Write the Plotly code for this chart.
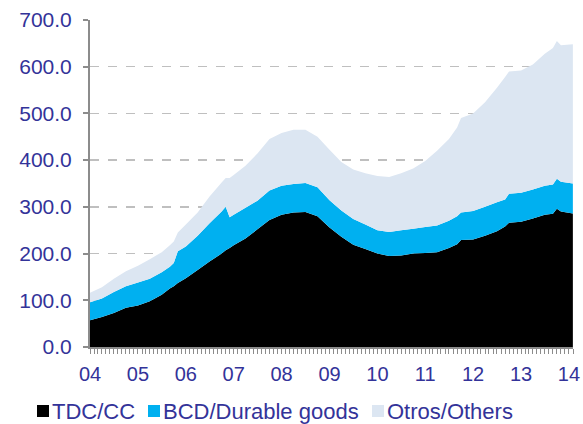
import plotly.graph_objects as go

dates = ["2004-01-01", "2004-04-01", "2004-07-01", "2004-10-01",
         "2005-01-01", "2005-04-01", "2005-07-01", "2005-09-01", "2005-10-01", "2005-11-01",
         "2006-01-01", "2006-04-01", "2006-07-01", "2006-10-01", "2006-11-01", "2006-12-01",
         "2007-01-01", "2007-04-01", "2007-07-01", "2007-10-01",
         "2008-01-01", "2008-04-01", "2008-07-01", "2008-10-01",
         "2009-01-01", "2009-04-01", "2009-07-01", "2009-10-01",
         "2010-01-01", "2010-04-01", "2010-07-01", "2010-10-01",
         "2011-01-01", "2011-04-01", "2011-07-01", "2011-09-01", "2011-10-01",
         "2012-01-01", "2012-04-01", "2012-07-01", "2012-09-01", "2012-10-01",
         "2013-01-01", "2013-04-01", "2013-07-01", "2013-09-01", "2013-10-01", "2013-11-01",
         "2014-01-31"]

tdc_cc = [57, 64, 73, 84,
          89, 98, 112, 125, 130, 137,
          147, 165, 183, 200, 207, 212,
          218, 232, 252, 272,
          283, 288, 289, 280,
          256, 236, 219, 210,
          200, 195, 196, 200,
          201, 203, 212, 220, 229,
          230, 238, 248, 258, 266,
          268, 275, 283, 285, 296, 290,
          286]

bcd_durable = [39, 40, 45, 46,
               49, 48, 48, 47, 50, 68,
               68, 73, 82, 90, 93, 66,
               65, 66, 61, 63,
               62, 61, 62, 62,
               58, 56, 55, 52,
               50, 51, 54, 53,
               56, 57, 58, 60, 59,
               61, 62, 62, 58, 62,
               62, 62, 62, 63, 64, 64,
               64]

otros_others = [20, 24, 28, 32,
                36, 42, 43, 46, 46, 40,
                47, 50, 57, 62, 62, 84,
                85, 90, 101, 110,
                113, 116, 114, 108,
                108, 104, 106, 110,
                116, 118, 122, 129,
                141, 160, 175, 190, 202,
                209, 224, 245, 262, 262,
                262, 268, 283, 292, 295, 292,
                298]

series_names = ["TDC/CC", "BCD/Durable goods", "Otros/Others"]
series_values = [tdc_cc, bcd_durable, otros_others]
series_colors = ["#000000", "#00B0F0", "#DCE6F2"]

y_ticks = [0, 100, 200, 300, 400, 500, 600, 700]
x_ticks = ["2004-01-01", "2005-01-01", "2006-01-01", "2007-01-01", "2008-01-01", "2009-01-01",
           "2010-01-01", "2011-01-01", "2012-01-01", "2013-01-01", "2014-01-01"]
x_labels = ["04", "05", "06", "07", "08", "09", "10", "11", "12", "13", "14"]

TXT = "#333399"
FONT = "Liberation Sans, Arial, sans-serif"

W, H = 583, 424
L, R, T, B = 90, 10, 20, 77
PW, PH = W - L - R, H - T - B


def px_x(page_x):
    return (page_x - L) / PW


def px_y(page_y):
    return (H - B - page_y) / PH


fig = go.Figure()
for name, vals, col in zip(series_names, series_values, series_colors):
    fig.add_trace(go.Scatter(
        x=dates, y=vals, name=name, mode="none", stackgroup="one",
        fill="tonexty", fillcolor=col, showlegend=False, hoverinfo="skip"))

# legend drawn as coloured squares + text labels
legend_sq_left = [37, 148, 372]
legend_y = 411
shapes, annots = [], []
for name, col, sx in zip(series_names, series_colors, legend_sq_left):
    shapes.append(dict(type="rect", xref="paper", yref="paper",
                       x0=px_x(sx), x1=px_x(sx + 12),
                       y0=px_y(legend_y + 6), y1=px_y(legend_y - 6),
                       fillcolor=col, line=dict(width=0)))
    annots.append(dict(xref="paper", yref="paper", x=px_x(sx + 13), y=px_y(legend_y),
                       xanchor="left", yanchor="middle", showarrow=False, text=name,
                       font=dict(family=FONT, size=22, color=TXT)))

fig.update_layout(
    width=W, height=H,
    margin=dict(l=L, r=R, t=T, b=B, autoexpand=False),
    paper_bgcolor="white", plot_bgcolor="white",
    font=dict(family=FONT, color=TXT, size=21),
    showlegend=False,
    hovermode=False,
    shapes=shapes, annotations=annots,
    xaxis=dict(type="date", range=["2004-01-01", "2014-02-01"], automargin=False,
               tickmode="array", tickvals=x_ticks, ticktext=x_labels,
               showgrid=False, zeroline=False,
               showline=True, linecolor="#8C8C8C", linewidth=2,
               ticks="outside", ticklen=5, tickcolor="#8C8C8C", tickwidth=1,
               ticklabelstandoff=3, ticklabeloverflow="allow",
               minor=dict(dtick="M1", tick0="2004-01-01", ticks="outside", ticklen=5,
                          tickcolor="#8C8C8C", tickwidth=1, showgrid=False),
               tickfont=dict(size=20, color=TXT)),
    yaxis=dict(range=[0, 700], tickmode="array", tickvals=y_ticks, automargin=False,
               tickformat=".1f",
               showgrid=True, gridcolor="#BFBFBF", gridwidth=1.5, griddash="dash",
               zeroline=False,
               showline=True, linecolor="#8C8C8C", linewidth=2,
               ticks="outside", ticklen=5, tickcolor="#8C8C8C", tickwidth=2,
               ticklabelstandoff=7,
               tickfont=dict(size=21, color=TXT)),
)

fig.write_html(
    "out.html",
    config={"displayModeBar": False, "staticPlot": True},
    post_script="document.body.style.margin='0';document.body.style.overflow='hidden';",
)
